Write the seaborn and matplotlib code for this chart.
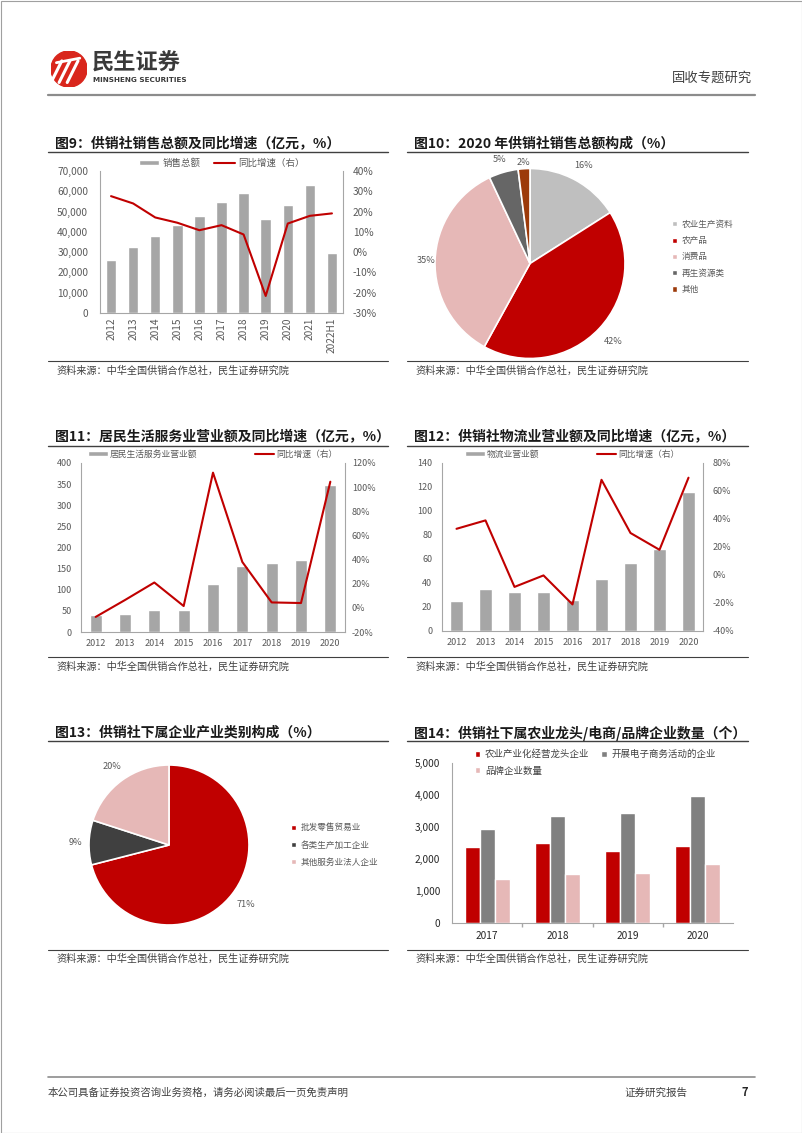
import numpy as np
import pandas as pd
import matplotlib.pyplot as plt
import seaborn as sns
from matplotlib.patches import Patch, Circle, Rectangle
from matplotlib.lines import Line2D
from matplotlib.ticker import FuncFormatter

# Figure 9: sales total and yoy growth
years9 = ['2012', '2013', '2014', '2015', '2016', '2017', '2018', '2019', '2020', '2021', '2022H1']
sales9 = [26000, 32500, 38000, 43500, 48000, 54500, 59000, 46500, 53000, 63000, 29500]
growth9 = [27.6, 24.0, 17.1, 14.5, 10.8, 13.3, 8.7, -21.6, 14.1, 17.9, 19.1]

# Figure 10: 2020 sales composition
names10 = ['农业生产资料', '农产品', '消费品', '再生资源类', '其他']
share10 = [16, 42, 35, 5, 2]

# Figure 11: resident services revenue
years11 = ['2012', '2013', '2014', '2015', '2016', '2017', '2018', '2019', '2020']
rev11 = [41, 43, 52, 53, 113, 156, 163, 170, 349]
growth11 = [-7.5, 6.5, 21, 1.5, 112, 38, 4.5, 4, 104.5]

# Figure 12: logistics revenue
years12 = ['2012', '2013', '2014', '2015', '2016', '2017', '2018', '2019', '2020']
rev12 = [25, 35, 32.5, 32.5, 25.5, 43.5, 57, 68, 115.5]
growth12 = [33, 39, -8.5, -0.3, -21, 68, 30, 18, 69.5]

# Figure 13: enterprise industry composition
names13 = ['批发零售贸易业', '各类生产加工企业', '其他服务业法人企业']
share13 = [71, 9, 20]

# Figure 14: enterprise counts
years14 = ['2017', '2018', '2019', '2020']
series14 = ['农业产业化经营龙头企业', '开展电子商务活动的企业', '品牌企业数量']
lead14 = [2385, 2510, 2240, 2405]
ecom14 = [2940, 3355, 3435, 3975]
brand14 = [1385, 1540, 1550, 1845]

RED = '#c00000'
GRAY = '#a6a6a6'
TXT = '#595959'
SPINE = '#a6a6a6'

sns.set_theme(style='white')
plt.rcParams['font.family'] = ['Noto Sans CJK SC', 'DejaVu Sans']
plt.rcParams['axes.unicode_minus'] = False

W, H = 802, 1133
fig = plt.figure(figsize=(W / 100, H / 100), dpi=100)


def box(x0, y0, x1, y1):
    return [x0 / W, 1 - y1 / H, (x1 - x0) / W, (y1 - y0) / H]


def ftext(x, y, s, **kw):
    fig.text(x / W, 1 - y / H, s, **kw)


def hline(x0, x1, y, color='#595959', lw=1.0):
    fig.add_artist(Line2D([x0 / W, x1 / W], [1 - y / H, 1 - y / H], color=color, lw=lw))


def frame(x0, x1, y_title, y_under, y_src_line, y_src, title):
    ftext(x0 + 7, y_title, title, fontsize=10, fontweight='bold', color='#1a1a1a', va='center')
    hline(x0, x1, y_under, '#404040', 1.0)
    hline(x0, x1, y_src_line, '#404040', 0.8)
    ftext(x0 + 8, y_src, '资料来源：中华全国供销合作总社，民生证券研究院', fontsize=7.3,
          color='#404040', va='center')


def combo(rect, years, vals, growth, lstep, lmax, rmin, rmax, rstep, fs, bw, rot,
          lpad, rpad, xpad, leg_labels, leg_y, leg_fs, colsp, comma):
    ax = fig.add_axes(box(*rect))
    sns.barplot(x=years, y=vals, color=GRAY, width=bw, saturation=1, ax=ax)
    ax2 = ax.twinx()
    sns.lineplot(x=np.arange(len(years)), y=growth, color=RED, lw=1.5, ax=ax2)
    ax.set_xlim(-0.5, len(years) - 0.5)
    ax.set_ylim(0, lmax)
    ax.set_yticks(np.arange(0, lmax + 1, lstep))
    if comma:
        ax.yaxis.set_major_formatter(FuncFormatter(lambda v, p: f'{v:,.0f}'))
    else:
        ax.yaxis.set_major_formatter(FuncFormatter(lambda v, p: f'{v:.0f}'))
    ax2.set_ylim(rmin, rmax)
    ax2.set_yticks(np.arange(rmin, rmax + 1, rstep))
    ax2.yaxis.set_major_formatter(FuncFormatter(lambda v, p: f'{v:.0f}%'))
    ax.tick_params(axis='y', length=0, pad=lpad, labelsize=fs, labelcolor=TXT)
    ax2.tick_params(axis='y', length=0, pad=rpad, labelsize=fs, labelcolor=TXT)
    ax.tick_params(axis='x', length=0, pad=xpad, labelsize=fs, labelcolor=TXT, rotation=rot)
    ax.set_xlabel('')
    ax.set_ylabel('')
    ax2.set_ylabel('')
    for a in (ax, ax2):
        for s in a.spines.values():
            s.set_color(SPINE)
            s.set_linewidth(0.8)
        a.spines['top'].set_visible(False)
    ax.spines['right'].set_visible(False)
    ax2.spines['left'].set_visible(False)
    ax2.spines['bottom'].set_visible(False)
    handles = [Patch(facecolor=GRAY), Line2D([], [], color=RED, lw=1.5)]
    cx = (rect[0] + rect[2]) / 2
    fig.legend(handles, leg_labels, loc='center', bbox_to_anchor=(cx / W, 1 - leg_y / H),
               ncol=2, frameon=False, fontsize=leg_fs, columnspacing=colsp,
               handlelength=2.2, handleheight=0.5, handletextpad=0.3, labelcolor=TXT,
               borderpad=0)


def pie(rect, vals, names, cols, dists, leg_x, leg_y, lsp):
    ax = fig.add_axes(box(*rect))
    wedges, texts = ax.pie(vals, colors=cols, startangle=90, counterclock=False,
                           labels=[f'{v}%' for v in vals], labeldistance=1.1,
                           wedgeprops=dict(edgecolor='white', linewidth=1.2),
                           textprops=dict(fontsize=6.6, color=TXT))
    for w, t, d in zip(wedges, texts, dists):
        ang = np.deg2rad((w.theta1 + w.theta2) / 2)
        t.set_position((d * np.cos(ang), d * np.sin(ang)))
        t.set_ha('center')
        t.set_va('center')
    ax.set_xlim(-1, 1)
    ax.set_ylim(-1, 1)
    ax.set_aspect('equal')
    handles = [Patch(facecolor=w.get_facecolor()) for w in wedges]
    fig.legend(handles, names, loc='center left', bbox_to_anchor=(leg_x / W, 1 - leg_y / H),
               frameon=False, fontsize=6.2, handlelength=0.55, handleheight=0.55,
               handletextpad=0.5, labelspacing=lsp, labelcolor=TXT, borderpad=0)


# ---------- header / footer ----------
fig.add_artist(Rectangle((0.5 / W, 0.5 / H), 1 - 1 / W, 1 - 1 / H, transform=fig.transFigure,
                         fill=False, edgecolor='#a0a0a0', lw=0.8))
lax = fig.add_axes(box(51, 51, 87, 87))
lax.add_patch(Circle((0, 0), 1, color='#d9261c'))
for off in (-0.45, 0.0, 0.45):
    lax.plot([-0.55 + off, 0.05 + off], [-0.75, 0.45], color='white', lw=2.2,
             solid_capstyle='round')
lax.plot([-0.7, 0.6], [0.35, 0.6], color='white', lw=2.0, solid_capstyle='round')
lax.set_xlim(-1, 1)
lax.set_ylim(-1, 1)
lax.set_aspect('equal')
lax.axis('off')
ftext(92, 63, '民生证券', fontsize=16, fontweight='bold', color='#3a3a3a', va='center')
ftext(93, 80, 'MINSHENG SECURITIES', fontsize=5.2, fontweight='bold', color='#3a3a3a',
      va='center', family=['DejaVu Sans'])
ftext(752, 78, '固收专题研究', fontsize=9.6, color='#404040', va='center', ha='right')
hline(48, 755, 95, '#8c8c8c', 1.6)
hline(48, 755, 1077, '#8c8c8c', 1.2)
ftext(48, 1093, '本公司具备证券投资咨询业务资格，请务必阅读最后一页免责声明', fontsize=7.5,
      color='#404040', va='center')
ftext(624, 1093, '证券研究报告', fontsize=7.6, color='#404040', va='center')
ftext(742, 1093, '7', fontsize=8, color='#262626', va='center', fontweight='bold')

# ---------- frames ----------
frame(48, 388, 144, 152, 361, 371, '图9：供销社销售总额及同比增速（亿元，%）')
frame(407, 748, 144, 152, 361, 371, '图10：2020 年供销社销售总额构成（%）')
frame(48, 388, 437, 446, 657, 667, '图11：居民生活服务业营业额及同比增速（亿元，%）')
frame(407, 748, 437, 446, 657, 667, '图12：供销社物流业营业额及同比增速（亿元，%）')
frame(48, 388, 733, 741, 950, 959, '图13：供销社下属企业产业类别构成（%）')
frame(407, 748, 733, 741, 950, 959, '图14：供销社下属农业龙头/电商/品牌企业数量（个）')

# ---------- Figure 9 ----------
combo((100, 171, 343, 313), years9, sales9, growth9, 10000, 70000, -30, 40, 10, 7.3, 0.47, 90,
      8.5, 7, 3, ['销售总额', '同比增速（右）'], 163, 6.8, 1.5, True)

# ---------- Figure 10 ----------
pie((435, 168.5, 625, 358.5), share10, names10,
    ['#bfbfbf', RED, '#e6b8b7', '#666666', '#9c3a0a'],
    [1.18, 1.2, 1.09, 1.14, 1.07], 668, 257, 0.85)

# ---------- Figure 11 ----------
combo((81, 463, 345, 632), years11, rev11, growth11, 50, 400, -20, 120, 20, 6.5, 0.42, 0,
      6.5, 5, 5, ['居民生活服务业营业额', '同比增速（右）'], 454, 6.3, 6.5, False)

# ---------- Figure 12 ----------
combo((442, 463, 703, 631), years12, rev12, growth12, 20, 140, -40, 80, 20, 6.5, 0.42, 0,
      7, 7, 5, ['物流业营业额', '同比增速（右）'], 454, 6.3, 6.5, False)

# ---------- Figure 13 ----------
pie((89, 765, 249, 925), share13, names13, [RED, '#404040', '#e6b8b7'],
    [1.22, 1.17, 1.22], 287, 845, 0.95)

# ---------- Figure 14 ----------
df14 = pd.DataFrame({
    'year': years14 * 3,
    'series': [series14[0]] * 4 + [series14[1]] * 4 + [series14[2]] * 4,
    'value': lead14 + ecom14 + brand14,
})
ax14 = fig.add_axes(box(452, 763, 733, 923))
sns.barplot(data=df14, x='year', y='value', hue='series', hue_order=series14,
            palette=[RED, '#808080', '#e6b8b7'], width=0.64, saturation=1, ax=ax14)
ax14.get_legend().remove()
ax14.set_xlim(-0.5, 3.5)
ax14.set_ylim(0, 5000)
ax14.set_yticks(np.arange(0, 5001, 1000))
ax14.yaxis.set_major_formatter(FuncFormatter(lambda v, p: f'{v:,.0f}'))
ax14.set_xticks([0.5, 1.5, 2.5], minor=True)
ax14.tick_params(axis='x', which='minor', length=3, color=SPINE, bottom=True)
ax14.tick_params(axis='x', which='major', length=0, pad=6, labelsize=7.3, labelcolor='#262626')
ax14.tick_params(axis='y', length=0, pad=8.5, labelsize=7.3, labelcolor='#262626')
ax14.set_xlabel('')
ax14.set_ylabel('')
for s in ('top', 'right'):
    ax14.spines[s].set_visible(False)
for s in ('left', 'bottom'):
    ax14.spines[s].set_color(SPINE)
    ax14.spines[s].set_linewidth(0.8)
h14, l14 = ax14.get_legend_handles_labels()
order = [0, 2, 1]
fig.legend([Patch(facecolor=h14[i].get_facecolor()) for i in order], [l14[i] for i in order],
           loc='upper left', bbox_to_anchor=(470 / W, 1 - 745 / H), ncol=2, frameon=False,
           fontsize=6.8, handlelength=0.6, handleheight=0.6, handletextpad=0.5,
           columnspacing=1.2, labelspacing=0.75, labelcolor='#404040', borderpad=0)

fig.savefig('out.png', dpi=100)
